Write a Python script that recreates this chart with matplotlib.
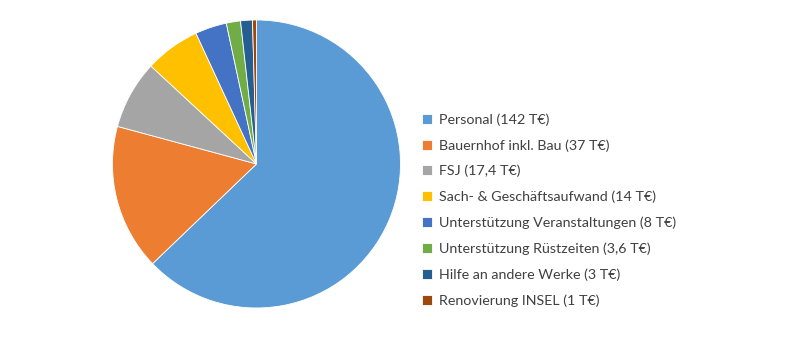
import matplotlib.pyplot as plt

labels = ['Personal (142 T€)', 'Bauernhof inkl. Bau (37 T€)', 'FSJ (17,4 T€)',
          'Sach- & Geschäftsaufwand (14 T€)', 'Unterstützung Veranstaltungen (8 T€)',
          'Unterstützung Rüstzeiten (3,6 T€)', 'Hilfe an andere Werke (3 T€)',
          'Renovierung INSEL (1 T€)']
values = [142, 37, 17.4, 14, 8, 3.6, 3, 1]
colors = ['#5B9BD5', '#ED7D31', '#A5A5A5', '#FFC000', '#4472C4',
          '#70AD47', '#255E91', '#9E480E']

plt.rcParams['font.family'] = ['Lato', 'DejaVu Sans']

fig = plt.figure(figsize=(8, 3.5), dpi=100)
ax = fig.add_axes([0.1406, 0.12, 0.36, 0.823])
wedges, _ = ax.pie(values, colors=colors, startangle=90, counterclock=False,
                   wedgeprops={'edgecolor': 'white', 'linewidth': 0.6})
ax.set_xlim(-1, 1)
ax.set_ylim(-1, 1)
ax.set_aspect('equal')

fig.legend(wedges, labels, loc='center left', bbox_to_anchor=(0.527, 0.4),
           frameon=False, fontsize=10.3, handlelength=0.7, handleheight=0.7,
           handletextpad=0.5, labelspacing=0.93, borderaxespad=0, borderpad=0,
           labelcolor='#404040')

fig.savefig('out.png', dpi=100)
